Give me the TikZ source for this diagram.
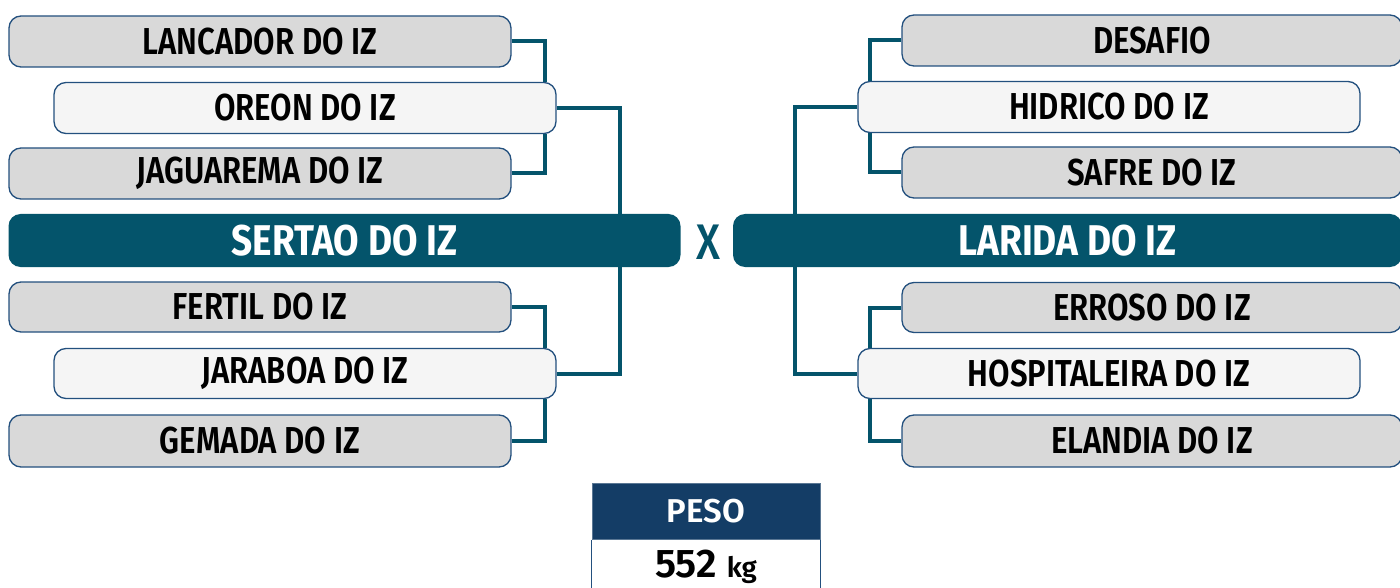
\documentclass[tikz,border=0pt]{standalone}
\usepackage{fontspec}
\setmainfont{Fira Sans}
\newfontfamily\condfont{Fira Sans SemiBold}[FakeStretch=0.83]
\newfontfamily\xfont{Fira Sans Medium}[FakeStretch=0.85]
\newfontfamily\condbold{Fira Sans Bold}[FakeStretch=0.86]
\newfontfamily\pesofont{Fira Sans SemiBold}
\usetikzlibrary{backgrounds}
\definecolor{teal}{HTML}{04546B}
\definecolor{bordblue}{HTML}{23507E}
\definecolor{grayfill}{HTML}{D9D9D9}
\definecolor{lightfill}{HTML}{F5F5F5}
\definecolor{pesoblue}{HTML}{143D66}
\tikzset{
  x=1pt, y=-1pt,
  graybox/.style={draw=bordblue, line width=1.3pt, fill=grayfill, rounded corners=12pt,
    minimum width=502pt, minimum height=51pt, inner sep=0pt, font=\condfont\fontsize{37.5}{37.5}\selectfont, text=black},
  lightbox/.style={graybox, fill=lightfill},
  mainbox/.style={fill=teal, rounded corners=12pt, minimum height=53pt, inner sep=0pt,
    font=\condbold\fontsize{43}{43}\selectfont, text=white},
  conn/.style={draw=teal, line width=4pt},
}
\begin{document}
\begin{tikzpicture}
\useasboundingbox (0,0) rectangle (1400,588);
% left side
\node[graybox] (lanc) at (260,41.5) {LANCADOR DO IZ};
\node[lightbox] (oreon) at (305,108) {OREON DO IZ};
\node[graybox] (jag) at (260,173.5) {JAGUAREMA DO IZ};
\node[mainbox, minimum width=672pt] (sertao) at (344.5,240.5) {SERTAO DO IZ};
\node[graybox, minimum height=50pt] (fertil) at (260,307) {FERTIL DO IZ};
\node[lightbox, minimum height=50pt] (jarab) at (305,373.5) {JARABOA DO IZ};
\node[graybox, minimum height=52pt] (gemada) at (260,441) {GEMADA DO IZ};
% right side
\node[graybox, minimum width=500pt] (desafio) at (1152,40.5) {DESAFIO};
\node[lightbox] (hidrico) at (1109,107) {HIDRICO DO IZ};
\node[graybox, minimum width=500pt] (safre) at (1152,172.5) {SAFRE DO IZ};
\node[mainbox, minimum width=669pt] (larida) at (1067.5,240.5) {LARIDA DO IZ};
\node[graybox, minimum width=500pt, minimum height=50pt] (erroso) at (1152,307.5) {ERROSO DO IZ};
\node[lightbox, minimum height=50pt] (hosp) at (1109,373.5) {HOSPITALEIRA DO IZ};
\node[graybox, minimum width=500pt, minimum height=52pt] (elandia) at (1152,441) {ELANDIA DO IZ};
% X
\node[text=teal, font=\xfont\fontsize{50}{50}\selectfont, inner sep=0pt] (vs) at (708,242) {X};
% peso
\node[fill=pesoblue, draw=pesoblue!70!white, line width=0.8pt, minimum width=228pt, minimum height=56pt, inner sep=0pt,
  text=white, font=\pesofont\fontsize{33}{33}\selectfont] (peso) at (706,511.5) {PESO};
\node[fill=white, minimum width=228pt, minimum height=56pt, inner sep=0pt, anchor=north] (val) at (peso.south) {};
\draw[bordblue, line width=1.2pt] (val.north west) -- (val.south west) (val.north east) -- (val.south east);
\node[font=\pesofont, anchor=base, inner sep=0pt] (valtxt) at (706,577) {\fontsize{40}{40}\selectfont 552 \fontsize{28}{28}\selectfont kg};
% connectors
\begin{scope}[on background layer]
\draw[conn] (lanc.east) -| ([xshift=-12pt]oreon.north east);
\draw[conn] (jag.east) -| ([xshift=-12pt]oreon.south east);
\draw[conn] (oreon.east) -| ([xshift=-61pt]sertao.north east);
\draw[conn] (fertil.east) -| ([xshift=-12pt]jarab.north east);
\draw[conn] (gemada.east) -| ([xshift=-12pt]jarab.south east);
\draw[conn] (jarab.east) -| ([xshift=-61pt]sertao.south east);
\draw[conn] (desafio.west) -| ([xshift=13pt]hidrico.north west);
\draw[conn] (safre.west) -| ([xshift=13pt]hidrico.south west);
\draw[conn] (hidrico.west) -| ([xshift=62pt]larida.north west);
\draw[conn] (erroso.west) -| ([xshift=13pt]hosp.north west);
\draw[conn] (elandia.west) -| ([xshift=13pt]hosp.south west);
\draw[conn] (hosp.west) -| ([xshift=62pt]larida.south west);
\end{scope}
\end{tikzpicture}
\end{document}
